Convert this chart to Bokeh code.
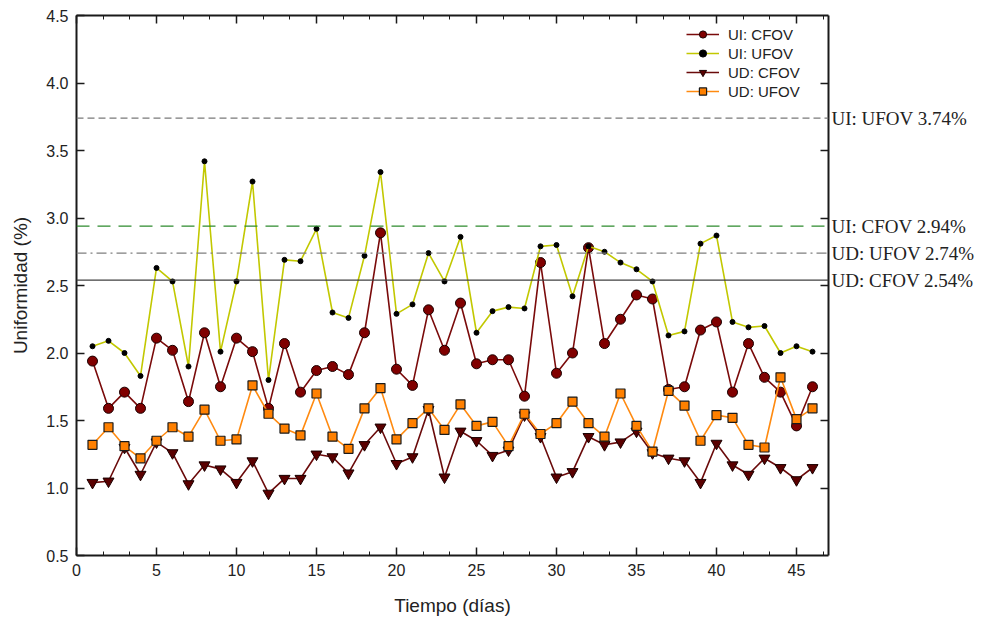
from bokeh.plotting import figure
from bokeh.models import (Range1d, LinearAxis, SingleIntervalTicker, FixedTicker,
                          NumeralTickFormatter, Span, Legend, LegendItem)
from bokeh.embed import file_html
from bokeh.resources import INLINE

# Daily uniformity measurements (%)
dias = list(range(1, 47))
ui_cfov = [1.94, 1.59, 1.71, 1.59, 2.11, 2.02, 1.64, 2.15, 1.75, 2.11, 2.01, 1.59, 2.07, 1.71, 1.87, 1.90,
           1.84, 2.15, 2.89, 1.88, 1.76, 2.32, 2.02, 2.37, 1.92, 1.95, 1.95, 1.68, 2.67, 1.85, 2.00, 2.78,
           2.07, 2.25, 2.43, 2.40, 1.73, 1.75, 2.17, 2.23, 1.71, 2.07, 1.82, 1.71, 1.46, 1.75]
ui_ufov = [2.05, 2.09, 2.00, 1.83, 2.63, 2.53, 1.90, 3.42, 2.01, 2.53, 3.27, 1.80, 2.69, 2.68, 2.92, 2.30,
           2.26, 2.72, 3.34, 2.29, 2.36, 2.74, 2.53, 2.86, 2.15, 2.31, 2.34, 2.33, 2.79, 2.80, 2.42, 2.79,
           2.75, 2.67, 2.62, 2.53, 2.13, 2.16, 2.81, 2.87, 2.23, 2.19, 2.20, 2.00, 2.05, 2.01]
ud_cfov = [1.04, 1.05, 1.30, 1.10, 1.34, 1.26, 1.03, 1.17, 1.14, 1.04, 1.20, 0.96, 1.07, 1.07, 1.25, 1.23,
           1.11, 1.32, 1.45, 1.18, 1.23, 1.58, 1.08, 1.42, 1.35, 1.24, 1.28, 1.54, 1.38, 1.08, 1.12, 1.38,
           1.32, 1.34, 1.42, 1.26, 1.22, 1.20, 1.04, 1.33, 1.17, 1.10, 1.22, 1.15, 1.06, 1.15]
ud_ufov = [1.32, 1.45, 1.31, 1.22, 1.35, 1.45, 1.38, 1.58, 1.35, 1.36, 1.76, 1.55, 1.44, 1.39, 1.70, 1.38,
           1.29, 1.59, 1.74, 1.36, 1.48, 1.59, 1.43, 1.62, 1.46, 1.49, 1.31, 1.55, 1.40, 1.48, 1.64, 1.48,
           1.38, 1.70, 1.46, 1.27, 1.72, 1.61, 1.35, 1.54, 1.52, 1.32, 1.30, 1.82, 1.51, 1.59]

# Tolerance limits
limite_nombres = ["UI: UFOV", "UI: CFOV", "UD: UFOV", "UD: CFOV"]
limite_valores = [3.74, 2.94, 2.74, 2.54]

SANS = "Liberation Sans"
SERIF = "Liberation Serif"
INK = "#1a1a1a"

p = figure(width=991, height=622, output_backend="svg", toolbar_location=None,
           x_range=Range1d(0, 47), y_range=Range1d(0.5, 4.5),
           min_border_left=76, min_border_right=163, min_border_top=15, min_border_bottom=67,
           x_axis_label="Tiempo (días)", y_axis_label="Uniformidad (%)")
p.grid.visible = False
p.outline_line_color = None

bottom = p.below[0]
left = p.left[0]

xt = SingleIntervalTicker(interval=5, num_minor_ticks=3)
yt = SingleIntervalTicker(interval=0.5, num_minor_ticks=0)
bottom.ticker = xt
left.ticker = yt
left.formatter = NumeralTickFormatter(format="0.0")

# Mirrored top axis: ticks only
top = LinearAxis(ticker=xt)
# Right axis: inward ticks every 0.5 (as minor ticks) and the limit names as labels
right = LinearAxis(ticker=FixedTicker(ticks=limite_valores,
                                      minor_ticks=[0.5 * k for k in range(2, 9)]))
right.major_label_overrides = {v: f"{n} {v:.2f}%" for n, v in zip(limite_nombres, limite_valores)}
p.add_layout(top, "above")
p.add_layout(right, "right")

for ax in (bottom, left, top, right):
    ax.axis_line_width = 2
    ax.axis_line_color = INK
    ax.major_tick_in = 8
    ax.major_tick_out = 0
    ax.minor_tick_in = 4
    ax.minor_tick_out = 0
    ax.major_tick_line_width = 1.5
    ax.minor_tick_line_width = 1
    ax.major_tick_line_color = INK
    ax.minor_tick_line_color = INK
    ax.major_label_text_font = SANS
    ax.major_label_text_font_size = "16px"
    ax.major_label_text_color = "#222222"
    ax.axis_label_text_font = SANS
    ax.axis_label_text_font_size = "19px"
    ax.axis_label_text_font_style = "normal"
    ax.axis_label_text_color = "#222222"

top.major_label_text_font_size = "1px"
top.major_label_text_color = None
top.major_label_standoff = 0

right.major_tick_in = 0
right.minor_tick_in = 8
right.minor_tick_line_width = 1.5
right.major_label_standoff = 3
right.major_label_text_font = SERIF
right.major_label_text_font_size = "19px"

bottom.major_label_standoff = 8
bottom.axis_label_standoff = 16
left.major_label_standoff = 8
left.axis_label_standoff = 12

# Tolerance lines
estilos = [("#7a7a7a", "7 4"), ("#2e8b2e", "13 8"), ("#7f7f7f", "10 4 2 4"), ("#404040", "solid")]
for v, (col, dash) in zip(limite_valores, estilos):
    p.add_layout(Span(location=v, dimension="width", line_color=col,
                      line_dash=dash, line_width=1.4))

# Series
l1 = p.line(dias, ui_cfov, line_color="#7a0a0a", line_width=1.6)
m1 = p.scatter(dias, ui_cfov, marker="circle", size=10, fill_color="#800000",
               line_color="#1a0000", line_width=1)
l2 = p.line(dias, ui_ufov, line_color="#c2c800", line_width=1.6)
m2 = p.scatter(dias, ui_ufov, marker="circle", size=5, fill_color="black", line_color="black")
l3 = p.line(dias, ud_cfov, line_color="#6a0a0a", line_width=1.6)
m3 = p.scatter(dias, ud_cfov, marker="inverted_triangle", size=11, fill_color="#5a0000",
               line_color="#1a0000", line_width=1)
l4 = p.line(dias, ud_ufov, line_color="#ff8a10", line_width=1.6)
m4 = p.scatter(dias, ud_ufov, marker="square", size=9, fill_color="#ff8000",
               line_color=INK, line_width=1.2)

legend = Legend(items=[
    LegendItem(label="UI: CFOV", renderers=[l1, m1]),
    LegendItem(label="UI: UFOV", renderers=[l2, m2]),
    LegendItem(label="UD: CFOV", renderers=[l3, m3]),
    LegendItem(label="UD: UFOV", renderers=[l4, m4]),
], location=(610, 455))
legend.border_line_color = None
legend.background_fill_alpha = 0
legend.label_text_font = SANS
legend.label_text_font_size = "15px"
legend.label_text_color = "#222222"
legend.glyph_width = 33
legend.glyph_height = 18
legend.label_height = 18
legend.spacing = 1
legend.padding = 4
legend.margin = 0
legend.label_standoff = 9
p.add_layout(legend, "center")

open("out.html", "w").write(file_html(p, INLINE))
